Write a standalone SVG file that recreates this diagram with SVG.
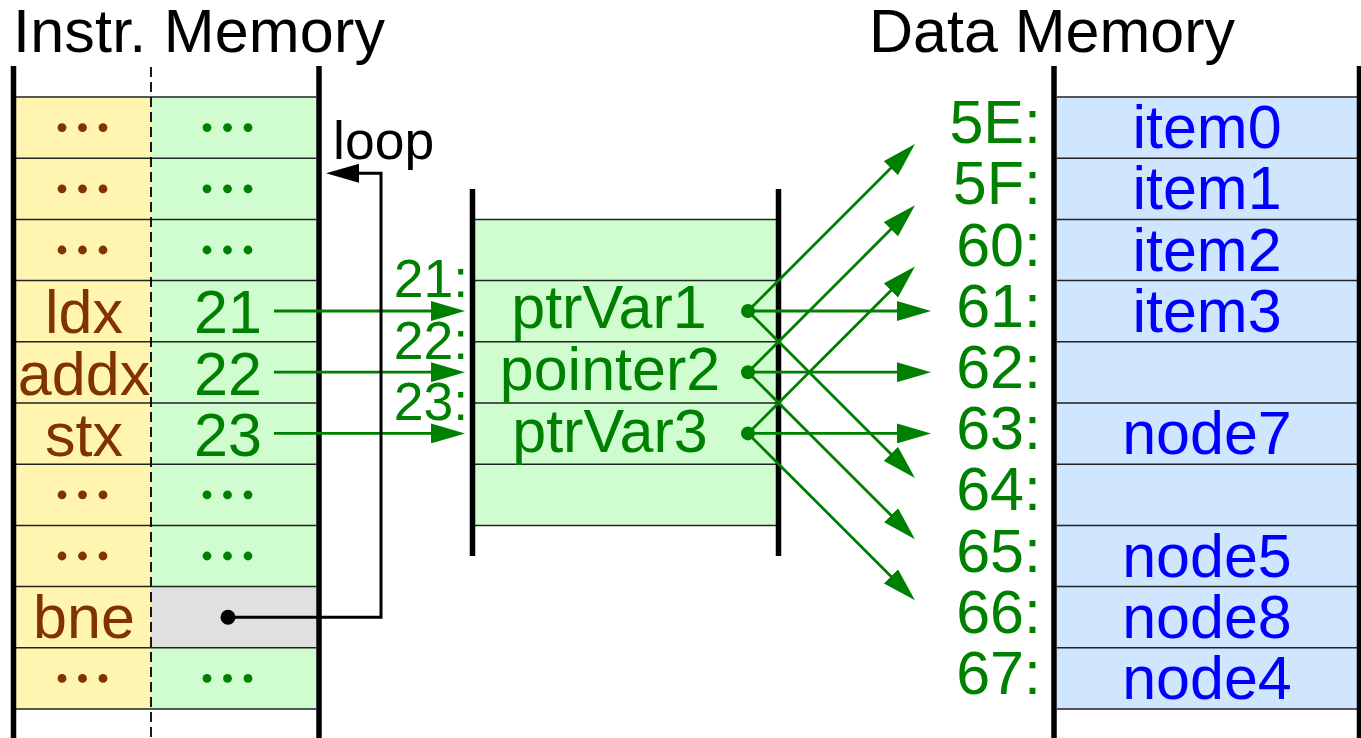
<svg xmlns="http://www.w3.org/2000/svg" width="1361" height="738" viewBox="0 0 1361 738">
<style>
text{font-family:"Liberation Sans",Arial,Helvetica,sans-serif;font-size:61px}
.t{fill:#000}
.br{fill:#803300}
.gr{fill:#008000}
.bl{fill:#0000ff}
.mid{text-anchor:middle}
.end{text-anchor:end}
.sm{font-size:53.5px}
.row{stroke:#222;stroke-width:1.5;fill:none}
.bar{stroke:#000;stroke-width:5.5;fill:none}
.ga{stroke:#008000;stroke-width:2.8;fill:none;marker-end:url(#ag)}
</style>
<defs>
<marker id="ag" markerWidth="34" markerHeight="20" refX="24" refY="10" orient="auto" markerUnits="userSpaceOnUse"><path d="M0,0 L34,10 L0,20 z" fill="#008000"/></marker>
<marker id="ak" markerWidth="33" markerHeight="19" refX="23" refY="9.5" orient="auto" markerUnits="userSpaceOnUse"><path d="M0,0 L33,9.5 L0,19 z" fill="#000"/></marker>
</defs>

<g id="titles">
<text class="t" x="13" y="52" textLength="372" lengthAdjust="spacing">Instr. Memory</text>
<text class="t" x="869" y="52">Data Memory</text>
</g>

<g id="instr-memory">
<rect x="16" y="97" width="135" height="612" fill="#fff5b1"/>
<rect x="151" y="97" width="165" height="612" fill="#d0fdd0"/>
<rect x="151" y="586.6" width="165" height="61.2" fill="#e0e0e0"/>
<path class="row" d="M16,97H316M16,158.2H316M16,219.4H316M16,280.6H316M16,341.8H316M16,403H316M16,464.2H316M16,525.4H316M16,586.6H316M16,647.8H316M16,709H316"/>
<line x1="151" y1="67" x2="151" y2="738" stroke="#000" stroke-width="1.8" stroke-dasharray="10,5"/>
<path class="bar" d="M13.5,66V738M319,66V738"/>
<g fill="#803300">
<circle cx="62" cy="127.6" r="4.4"/><circle cx="82.5" cy="127.6" r="4.4"/><circle cx="103" cy="127.6" r="4.4"/>
<circle cx="62" cy="188.8" r="4.4"/><circle cx="82.5" cy="188.8" r="4.4"/><circle cx="103" cy="188.8" r="4.4"/>
<circle cx="62" cy="250" r="4.4"/><circle cx="82.5" cy="250" r="4.4"/><circle cx="103" cy="250" r="4.4"/>
<circle cx="62" cy="494.8" r="4.4"/><circle cx="82.5" cy="494.8" r="4.4"/><circle cx="103" cy="494.8" r="4.4"/>
<circle cx="62" cy="556" r="4.4"/><circle cx="82.5" cy="556" r="4.4"/><circle cx="103" cy="556" r="4.4"/>
<circle cx="62" cy="678.4" r="4.4"/><circle cx="82.5" cy="678.4" r="4.4"/><circle cx="103" cy="678.4" r="4.4"/>
</g>
<g fill="#008000">
<circle cx="207" cy="127.6" r="4.4"/><circle cx="227.5" cy="127.6" r="4.4"/><circle cx="248" cy="127.6" r="4.4"/>
<circle cx="207" cy="188.8" r="4.4"/><circle cx="227.5" cy="188.8" r="4.4"/><circle cx="248" cy="188.8" r="4.4"/>
<circle cx="207" cy="250" r="4.4"/><circle cx="227.5" cy="250" r="4.4"/><circle cx="248" cy="250" r="4.4"/>
<circle cx="207" cy="494.8" r="4.4"/><circle cx="227.5" cy="494.8" r="4.4"/><circle cx="248" cy="494.8" r="4.4"/>
<circle cx="207" cy="556" r="4.4"/><circle cx="227.5" cy="556" r="4.4"/><circle cx="248" cy="556" r="4.4"/>
<circle cx="207" cy="678.4" r="4.4"/><circle cx="227.5" cy="678.4" r="4.4"/><circle cx="248" cy="678.4" r="4.4"/>
</g>
<text class="br mid" x="84" y="333.3">ldx</text>
<text class="br mid" x="84" y="394.5">addx</text>
<text class="br mid" x="84" y="455.7">stx</text>
<text class="br mid" x="84" y="638.1">bne</text>
<text class="gr mid" x="228" y="333.3">21</text>
<text class="gr mid" x="228" y="394.5">22</text>
<text class="gr mid" x="228" y="455.7">23</text>
<circle cx="228" cy="617.2" r="7.5" fill="#000"/>
</g>

<g id="pointer-memory">
<rect x="475" y="219.4" width="301" height="306" fill="#d0fdd0"/>
<path class="row" d="M475,219.4H776M475,280.6H776M475,341.8H776M475,403H776M475,464.2H776M475,525.4H776"/>
<path class="bar" d="M472.5,189V556M778.5,189V556"/>
<text class="gr mid" x="609" y="328">ptrVar1</text>
<text class="gr mid" x="610" y="390">pointer2</text>
<text class="gr mid" x="610" y="451.5">ptrVar3</text>
<text class="gr end sm" x="468" y="297">21:</text>
<text class="gr end sm" x="468" y="359">22:</text>
<text class="gr end sm" x="468" y="420">23:</text>
<g fill="#008000">
<circle cx="748" cy="311" r="7"/>
<circle cx="748" cy="372.2" r="7"/>
<circle cx="748" cy="433.4" r="7"/>
</g>
</g>

<g id="data-memory">
<rect x="1057" y="97" width="300" height="612" fill="#d0e6ff"/>
<path class="row" d="M1057,97H1357M1057,158.2H1357M1057,219.4H1357M1057,280.6H1357M1057,341.8H1357M1057,403H1357M1057,464.2H1357M1057,525.4H1357M1057,586.6H1357M1057,647.8H1357M1057,709H1357"/>
<path class="bar" d="M1054,66V738M1359.5,66V738"/>
<text class="gr end" x="1041" y="143.2">5E:</text>
<text class="gr end" x="1041" y="204.4">5F:</text>
<text class="gr end" x="1041" y="265.6">60:</text>
<text class="gr end" x="1041" y="326.8">61:</text>
<text class="gr end" x="1041" y="388">62:</text>
<text class="gr end" x="1041" y="449.2">63:</text>
<text class="gr end" x="1041" y="510.4">64:</text>
<text class="gr end" x="1041" y="571.6">65:</text>
<text class="gr end" x="1041" y="632.8">66:</text>
<text class="gr end" x="1041" y="694">67:</text>
<text class="bl mid" x="1207" y="148.2">item0</text>
<text class="bl mid" x="1207" y="209.4">item1</text>
<text class="bl mid" x="1207" y="270.6">item2</text>
<text class="bl mid" x="1207" y="331.8">item3</text>
<text class="bl mid" x="1207" y="454.2">node7</text>
<text class="bl mid" x="1207" y="576.6">node5</text>
<text class="bl mid" x="1207" y="637.8">node8</text>
<text class="bl mid" x="1207" y="699">node4</text>
</g>

<g id="connectors">
<path class="ga" d="M274,311H455"/>
<path class="ga" d="M274,372.2H455"/>
<path class="ga" d="M274,433.4H455"/>
<path class="ga" d="M748,311L907.9,151.1"/>
<path class="ga" d="M748,311H921"/>
<path class="ga" d="M748,311L907.9,470.9"/>
<path class="ga" d="M748,372.2L907.9,212.3"/>
<path class="ga" d="M748,372.2H921"/>
<path class="ga" d="M748,372.2L907.9,532.1"/>
<path class="ga" d="M748,433.4L907.9,273.5"/>
<path class="ga" d="M748,433.4H921"/>
<path class="ga" d="M748,433.4L907.9,593.3"/>
<path d="M228,617.2H381V173.3H336" fill="none" stroke="#000" stroke-width="3" marker-end="url(#ak)"/>
<text class="t sm" x="333" y="158.5">loop</text>
</g>
</svg>
